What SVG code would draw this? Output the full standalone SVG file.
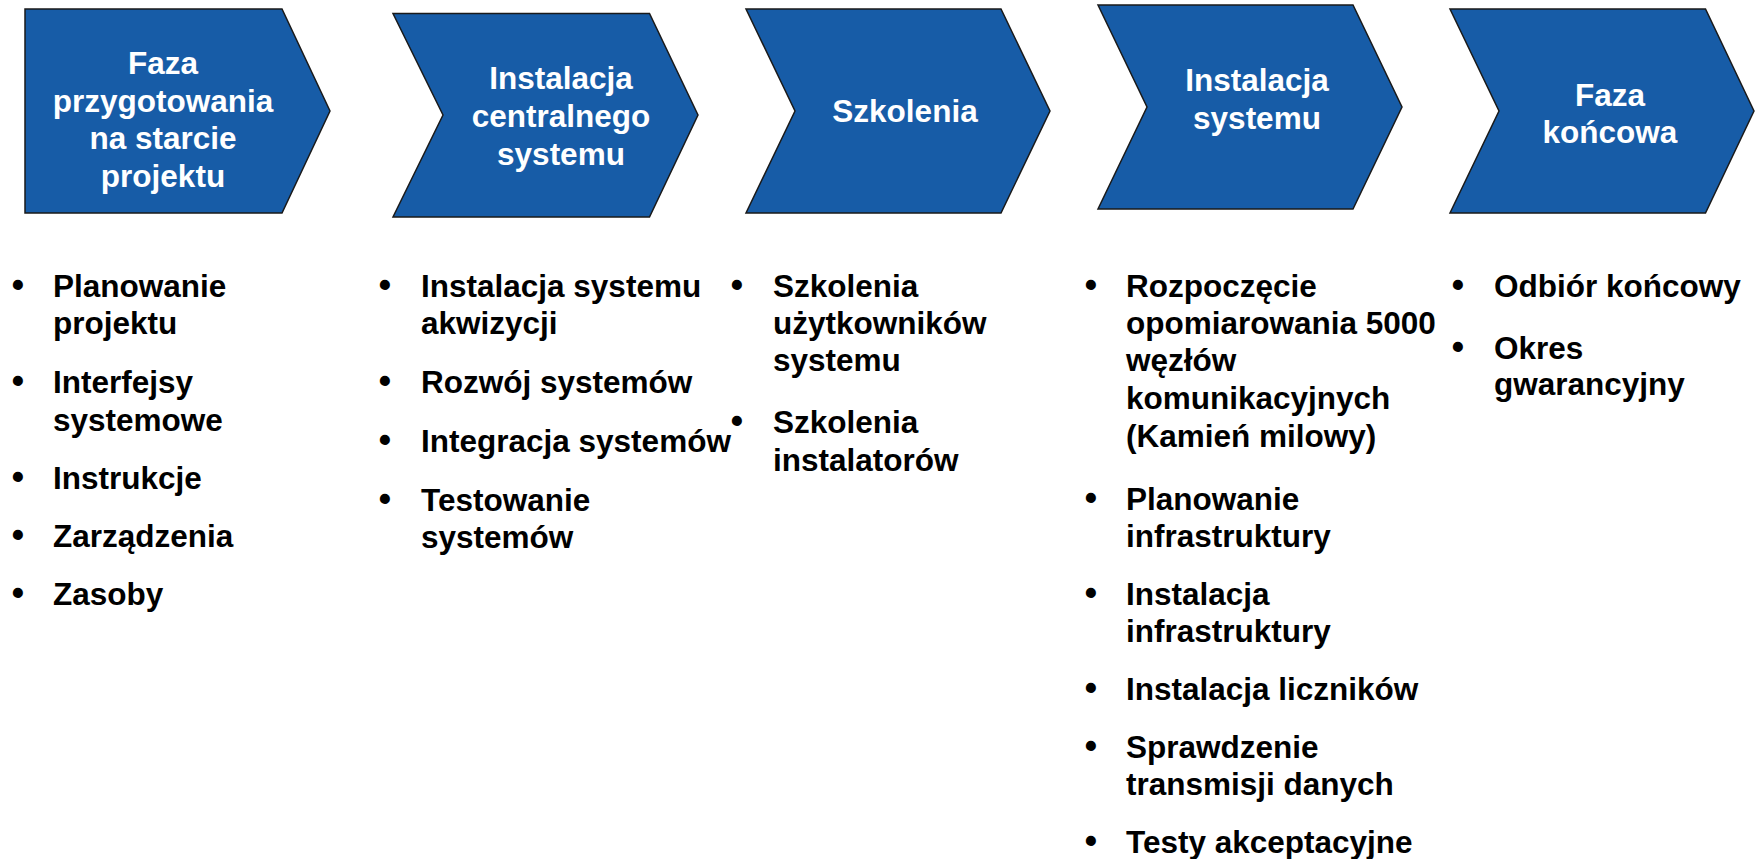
<svg xmlns="http://www.w3.org/2000/svg" width="1757" height="859" viewBox="0 0 1757 859">
<style>
.chev{fill:#175CA7;stroke:#1a1a1a;stroke-width:1.5;stroke-linejoin:miter}
.lbl{font-family:"Liberation Sans",Arial,sans-serif;font-weight:bold;font-size:31.5px;fill:#ffffff;text-anchor:middle}
.txt{font-family:"Liberation Sans",Arial,sans-serif;font-weight:bold;font-size:31.5px;fill:#000000}
.bul{font-family:"Liberation Sans",Arial,sans-serif;font-weight:bold;font-size:35px;fill:#000000;text-anchor:middle}
</style>
<rect width="1757" height="859" fill="#ffffff"/>
<g id="connectors"/>
<g id="node-faza-przygotowania">
<polygon class="chev" points="25,9 282,9 330,111 282,213 25,213"/>
<text class="lbl"><tspan x="163" y="74">Faza</tspan><tspan x="163" y="111.5">przygotowania</tspan><tspan x="163" y="149">na starcie</tspan><tspan x="163" y="186.5">projektu</tspan></text>
</g>
<g id="node-instalacja-centralnego">
<polygon class="chev" points="393,13.5 649.5,13.5 698,115 649.5,217 393,217 443,115"/>
<text class="lbl"><tspan x="561" y="89">Instalacja</tspan><tspan x="561" y="127">centralnego</tspan><tspan x="561" y="165">systemu</tspan></text>
</g>
<g id="node-szkolenia">
<polygon class="chev" points="746,9 1001,9 1050,111 1001,213 746,213 795,111"/>
<text class="lbl" x="905" y="122">Szkolenia</text>
</g>
<g id="node-instalacja-systemu">
<polygon class="chev" points="1098,5 1353,5 1402,107 1353,209 1098,209 1147,107"/>
<text class="lbl"><tspan x="1257" y="91">Instalacja</tspan><tspan x="1257" y="129">systemu</tspan></text>
</g>
<g id="node-faza-koncowa">
<polygon class="chev" points="1450,9 1705.5,9 1754,111 1705.5,213 1450,213 1499,111"/>
<text class="lbl"><tspan x="1610" y="105.5">Faza</tspan><tspan x="1610" y="143">końcowa</tspan></text>
</g>
<g id="list-1">
<text class="bul"><tspan x="18" y="297">•</tspan><tspan x="18" y="392.5">•</tspan><tspan x="18" y="489">•</tspan><tspan x="18" y="546.5">•</tspan><tspan x="18" y="605">•</tspan></text>
<text class="txt"><tspan x="53" y="297">Planowanie</tspan><tspan x="53" y="334">projektu</tspan><tspan x="53" y="392.5">Interfejsy</tspan><tspan x="53" y="430.5">systemowe</tspan><tspan x="53" y="489">Instrukcje</tspan><tspan x="53" y="546.5">Zarządzenia</tspan><tspan x="53" y="605">Zasoby</tspan></text>
</g>
<g id="list-2">
<text class="bul"><tspan x="385" y="297">•</tspan><tspan x="385" y="393">•</tspan><tspan x="385" y="452">•</tspan><tspan x="385" y="511">•</tspan></text>
<text class="txt"><tspan x="421" y="297">Instalacja systemu</tspan><tspan x="421" y="334">akwizycji</tspan><tspan x="421" y="393">Rozwój systemów</tspan><tspan x="421" y="452">Integracja systemów</tspan><tspan x="421" y="511">Testowanie</tspan><tspan x="421" y="548">systemów</tspan></text>
</g>
<g id="list-3">
<text class="bul"><tspan x="737" y="297">•</tspan><tspan x="737" y="433">•</tspan></text>
<text class="txt"><tspan x="773" y="297">Szkolenia</tspan><tspan x="773" y="334">użytkowników</tspan><tspan x="773" y="371">systemu</tspan><tspan x="773" y="433">Szkolenia</tspan><tspan x="773" y="470.5">instalatorów</tspan></text>
</g>
<g id="list-4">
<text class="bul"><tspan x="1091" y="297">•</tspan><tspan x="1091" y="509.5">•</tspan><tspan x="1091" y="604.5">•</tspan><tspan x="1091" y="700">•</tspan><tspan x="1091" y="758">•</tspan><tspan x="1091" y="853">•</tspan></text>
<text class="txt"><tspan x="1126" y="297">Rozpoczęcie</tspan><tspan x="1126" y="334.2">opomiarowania 5000</tspan><tspan x="1126" y="371.4">węzłów</tspan><tspan x="1126" y="409">komunikacyjnych</tspan><tspan x="1126" y="447">(Kamień milowy)</tspan><tspan x="1126" y="509.5">Planowanie</tspan><tspan x="1126" y="546.7">infrastruktury</tspan><tspan x="1126" y="604.5">Instalacja</tspan><tspan x="1126" y="641.7">infrastruktury</tspan><tspan x="1126" y="700">Instalacja liczników</tspan><tspan x="1126" y="758">Sprawdzenie</tspan><tspan x="1126" y="795.2">transmisji danych</tspan><tspan x="1126" y="853">Testy akceptacyjne</tspan></text>
</g>
<g id="list-5">
<text class="bul"><tspan x="1458" y="297">•</tspan><tspan x="1458" y="358.5">•</tspan></text>
<text class="txt"><tspan x="1494" y="297">Odbiór końcowy</tspan><tspan x="1494" y="358.5">Okres</tspan><tspan x="1494" y="395">gwarancyjny</tspan></text>
</g>
</svg>
